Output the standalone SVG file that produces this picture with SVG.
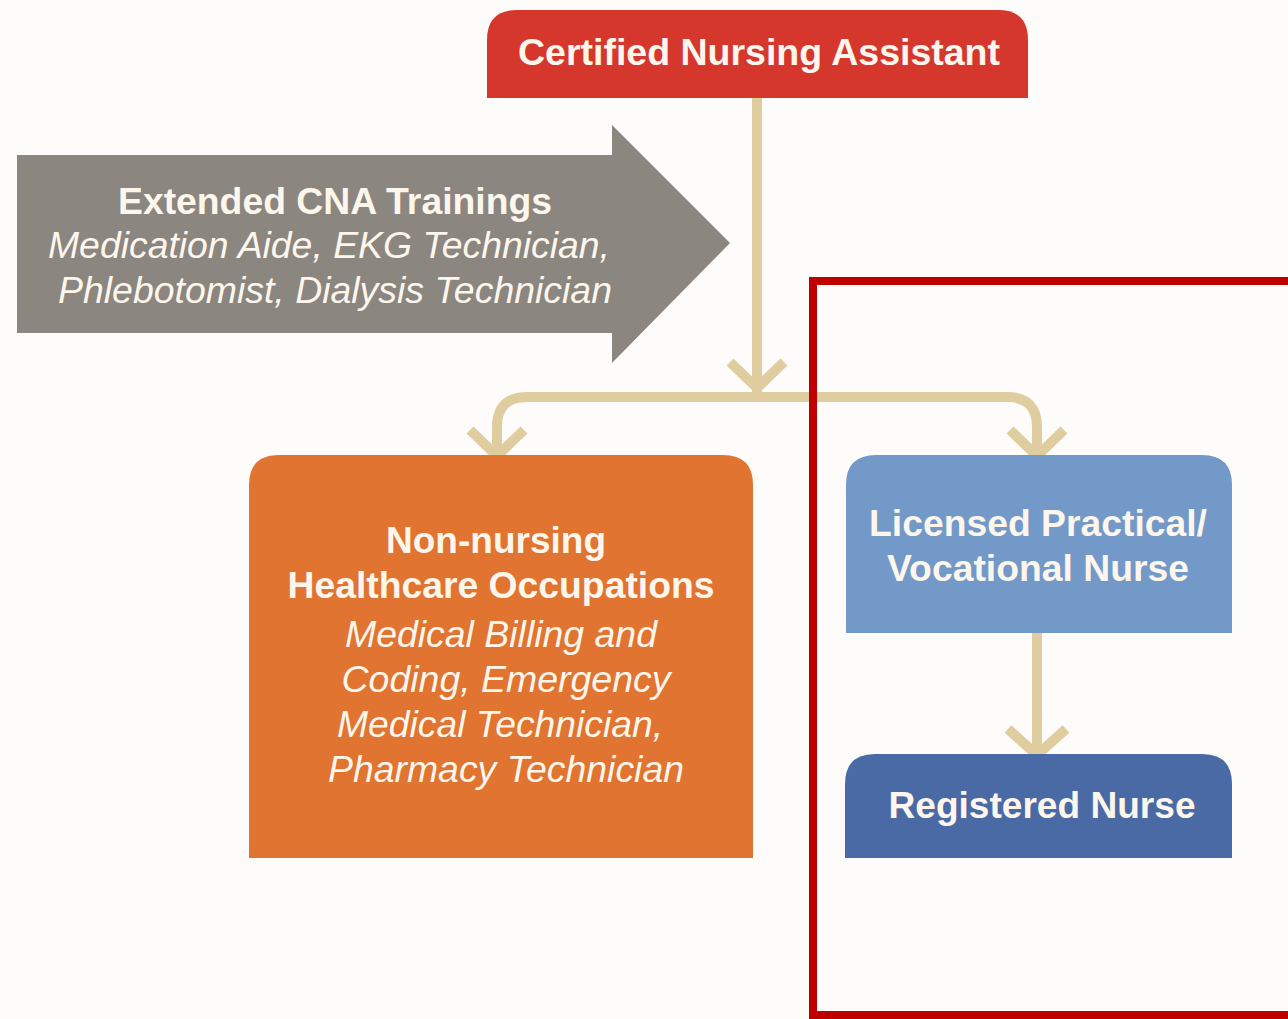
<svg xmlns="http://www.w3.org/2000/svg" width="1288" height="1019" viewBox="0 0 1288 1019">
<style>
.t{font-family:"Liberation Sans",Arial,sans-serif;fill:#fdf6ec;text-anchor:middle}
.b{font-weight:bold;font-size:37px}
.i{font-style:italic;font-size:37px}
.con{fill:none;stroke:#dfcc9f;stroke-width:10;stroke-linecap:butt;stroke-linejoin:round}
</style>
<rect width="1288" height="1019" fill="#fdfcfb"/>
<g id="connectors">
<path class="con" d="M757 98 V397"/>
<path class="con" d="M730 362 L757 388 L784 362"/>
<path class="con" d="M497 452 V427 Q497 397 527 397 H1007 Q1037 397 1037 427 V452"/>
<path class="con" d="M470 430 L497 456 L524 430"/>
<path class="con" d="M1010 430 L1037 456 L1064 430"/>
<path class="con" d="M1037 633 V752"/>
<path class="con" d="M1008 729 L1037 755 L1066 729"/>
</g>
<g id="cna">
<path d="M487 98 V40 Q487 10 517 10 H998 Q1028 10 1028 40 V98 Z" fill="#d6372d"/>
<text class="t b" x="759" y="65" textLength="482" lengthAdjust="spacingAndGlyphs">Certified Nursing Assistant</text>
</g>
<g id="extended">
<path d="M17 155 H612 V125 L730 243 L612 363 V333 H17 Z" fill="#8b8680"/>
<text class="t b" x="335" y="214" textLength="434" lengthAdjust="spacingAndGlyphs">Extended CNA Trainings</text>
<text class="t i" x="329" y="258" textLength="562" lengthAdjust="spacingAndGlyphs">Medication Aide, EKG Technician,</text>
<text class="t i" x="335" y="303" textLength="554" lengthAdjust="spacingAndGlyphs">Phlebotomist, Dialysis Technician</text>
</g>
<g id="nonnursing">
<path d="M249 858 V485 Q249 455 279 455 H723 Q753 455 753 485 V858 Z" fill="#e07430"/>
<text class="t b" x="496" y="553" textLength="220" lengthAdjust="spacingAndGlyphs">Non-nursing</text>
<text class="t b" x="501" y="598" textLength="427" lengthAdjust="spacingAndGlyphs">Healthcare Occupations</text>
<text class="t i" x="501" y="647" textLength="312" lengthAdjust="spacingAndGlyphs">Medical Billing and</text>
<text class="t i" x="506" y="692" textLength="329" lengthAdjust="spacingAndGlyphs">Coding, Emergency</text>
<text class="t i" x="500" y="737" textLength="326" lengthAdjust="spacingAndGlyphs">Medical Technician,</text>
<text class="t i" x="506" y="782" textLength="356" lengthAdjust="spacingAndGlyphs">Pharmacy Technician</text>
</g>
<g id="lpn">
<path d="M846 633 V485 Q846 455 876 455 H1202 Q1232 455 1232 485 V633 Z" fill="#7299c8"/>
<text class="t b" x="1038" y="536" textLength="338" lengthAdjust="spacingAndGlyphs">Licensed Practical/</text>
<text class="t b" x="1038" y="581" textLength="302" lengthAdjust="spacingAndGlyphs">Vocational Nurse</text>
</g>
<g id="rn">
<path d="M845 858 V784 Q845 754 875 754 H1202 Q1232 754 1232 784 V858 Z" fill="#4a6aa6"/>
<text class="t b" x="1042" y="818" textLength="307" lengthAdjust="spacingAndGlyphs">Registered Nurse</text>
</g>
<path d="M1292 281 H813 V1015 H1292" fill="none" stroke="#c00000" stroke-width="8"/>
</svg>
